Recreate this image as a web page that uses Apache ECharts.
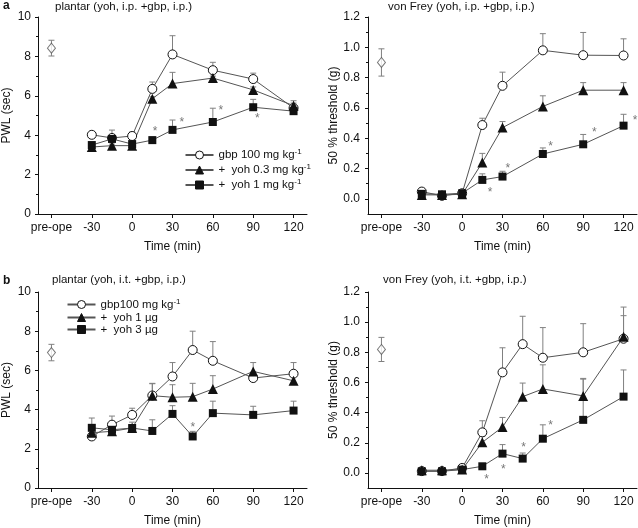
<!DOCTYPE html>
<html><head><meta charset="utf-8">
<script src="https://cdn.jsdelivr.net/npm/echarts@6/dist/echarts.min.js"></script>
<style>html,body{margin:0;padding:0;background:#fff}#c{width:638px;height:528px}</style>
</head><body><div id="c"></div>
<script>
// ---------- data ----------
const xTicks = [-60, -30, 0, 30, 60, 90, 120];   // -60 = "pre-ope"
const preOpeX = -60;
const timesA = [-30, -15, 0, 15, 30, 60, 90, 120];
const timesB = [-30, -15, 0, 15, 30, 45, 60, 90, 120];
const yTicksVF = [0, 0.2, 0.4, 0.6, 0.8, 1.0, 1.2];
const yMinorVF = [0.1, 0.3, 0.5, 0.7, 0.9, 1.1];

// a, left: plantar (yoh, i.p. +gbp, i.p.)
const aL_pre = [8.42, 0.40];
const aL_gbp = [4.02, 3.86, 3.96, 6.35, 8.10, 7.30, 6.85, 5.38];
const aL_gbpErr = [0.08, 0.10, 0.20, 0.35, 0.95, 0.40, 0.30, 0.25];
const aL_y03 = [3.40, 3.47, 3.47, 5.85, 6.62, 6.90, 6.30, 5.50];
const aL_y03Err = [0.08, 0.08, 0.10, 0.10, 0.57, 0.10, 0.15, 0.25];
const aL_y1 = [3.50, 3.81, 3.55, 3.75, 4.27, 4.67, 5.42, 5.22];
const aL_y1Err = [0.10, 0.45, 0.10, 0.15, 0.50, 0.70, 0.40, 0.10];
const aL_star = [[17, 4.33], [37, 4.78], [66, 5.38], [93, 4.99]];

// a, right: von Frey (yoh, i.p. +gbp, i.p.)
const aR_pre = [0.90, 0.09];
const aR_gbp = [0.048, 0.020, 0.037, 0.487, 0.746, 0.980, 0.948, 0.946];
const aR_gbpErr = [0.005, 0.005, 0.010, 0.045, 0.090, 0.110, 0.150, 0.110];
const aR_y03 = [0.026, 0.026, 0.030, 0.240, 0.470, 0.610, 0.717, 0.717];
const aR_y03Err = [0.005, 0.005, 0.010, 0.060, 0.040, 0.070, 0.050, 0.050];
const aR_y1 = [0.033, 0.030, 0.037, 0.125, 0.147, 0.296, 0.360, 0.483];
const aR_y1Err = [0.005, 0.010, 0.010, 0.040, 0.035, 0.040, 0.065, 0.075];
const aR_star = [[20.7, 0.055], [34, 0.217], [65.7, 0.362], [98.2, 0.45], [128.5, 0.529]];

// b, left: plantar (yoh, i.t. +gbp, i.p.)
const bL_pre = [6.91, 0.42];
const bL_gbp = [2.63, 3.23, 3.73, 4.72, 5.69, 7.04, 6.49, 5.61, 5.83];
const bL_gbpErr = [0.10, 0.44, 0.34, 0.60, 0.71, 0.96, 0.98, 0.30, 0.57];
const bL_y1 = [2.82, 2.89, 3.06, 4.71, 4.63, 4.66, 5.05, 5.95, 5.47];
const bL_y1Err = [0.10, 0.10, 0.10, 0.63, 0.64, 0.68, 0.68, 0.45, 0.30];
const bL_y3 = [3.07, 2.97, 3.06, 2.91, 3.78, 2.63, 3.82, 3.73, 3.95];
const bL_y3Err = [0.50, 0.35, 0.30, 0.57, 0.42, 0.26, 0.61, 0.44, 0.48];
const bL_star = [[45.2, 3.23]];

// b, right: von Frey (yoh, i.t. +gbp, i.p.)
const bR_pre = [0.819, 0.08];
const bR_gbp = [0.012, 0.012, 0.033, 0.269, 0.667, 0.854, 0.764, 0.800, 0.890];
const bR_gbpErr = [0.003, 0.003, 0.010, 0.077, 0.163, 0.185, 0.200, 0.190, 0.210];
const bR_y1 = [0.018, 0.018, 0.022, 0.203, 0.304, 0.506, 0.557, 0.511, 0.903];
const bR_y1Err = [0.005, 0.005, 0.005, 0.040, 0.064, 0.090, 0.160, 0.116, 0.140];
const bR_y3 = [0.011, 0.011, 0.022, 0.044, 0.128, 0.095, 0.227, 0.352, 0.506];
const bR_y3Err = [0.005, 0.005, 0.005, 0.010, 0.060, 0.037, 0.092, 0.270, 0.177];
const bR_star = [[18.2, -0.029], [30.7, 0.04], [45.7, 0.187], [65.7, 0.33]];

const legendA = ['gbp 100 mg kg-1', '+  yoh 0.3 mg kg-1', '+  yoh 1 mg kg-1'];
const legendB = ['gbp100 mg kg-1', '+  yoh 1 \u00b5g', '+  yoh 3 \u00b5g'];

// ---------- styling / building ----------
const FONT = '"Liberation Sans", Arial, Helvetica, sans-serif';
const INK = '#111';
const LINE = '#555';
const ERR = '#808080';

const panels = [
  { g: 0, times: timesA, pre: aL_pre, stars: aL_star,
    lines: [[legendA[0], aL_gbp, aL_gbpErr, 'c'], [legendA[1], aL_y03, aL_y03Err, 't'], [legendA[2], aL_y1, aL_y1Err, 's']] },
  { g: 1, times: timesA, pre: aR_pre, stars: aR_star,
    lines: [['aR gbp', aR_gbp, aR_gbpErr, 'c'], ['aR yoh 0.3', aR_y03, aR_y03Err, 't'], ['aR yoh 1', aR_y1, aR_y1Err, 's']] },
  { g: 2, times: timesB, pre: bL_pre, stars: bL_star,
    lines: [[legendB[0], bL_gbp, bL_gbpErr, 'c'], [legendB[1], bL_y1, bL_y1Err, 't'], [legendB[2], bL_y3, bL_y3Err, 's']] },
  { g: 3, times: timesB, pre: bR_pre, stars: bR_star,
    lines: [['bR gbp', bR_gbp, bR_gbpErr, 'c'], ['bR yoh 1', bR_y1, bR_y1Err, 't'], ['bR yoh 3', bR_y3, bR_y3Err, 's']] }
];

const symbolStyles = {
  c: { symbol: 'circle', symbolSize: 9, itemStyle: { color: '#fff', borderColor: INK, borderWidth: 1 } },
  t: { symbol: 'triangle', symbolSize: 10, itemStyle: { color: INK, borderColor: INK, borderWidth: 0 } },
  s: { symbol: 'rect', symbolSize: 8, itemStyle: { color: INK, borderColor: INK, borderWidth: 0 } }
};

function renderErr(params, api) {
  const x = api.value(0), lo = api.value(1), hi = api.value(2), both = api.value(3);
  const p1 = api.coord([x, lo]), p2 = api.coord([x, hi]);
  const w = 3;
  const st = { stroke: ERR, lineWidth: 1 };
  const ch = [
    { type: 'line', shape: { x1: p1[0], y1: p1[1], x2: p2[0], y2: p2[1] }, style: st },
    { type: 'line', shape: { x1: p2[0] - w, y1: p2[1], x2: p2[0] + w, y2: p2[1] }, style: st }
  ];
  if (both) ch.push({ type: 'line', shape: { x1: p1[0] - w, y1: p1[1], x2: p1[0] + w, y2: p1[1] }, style: st });
  return { type: 'group', children: ch };
}
function renderStar(params, api) {
  const p = api.coord([api.value(0), api.value(1)]);
  return { type: 'text', x: p[0], y: p[1] - 3.5,
    style: { text: '*', fill: '#777', font: '12px ' + FONT, align: 'center', verticalAlign: 'top' } };
}

const series = [];
panels.forEach(p => {
  const errData = [[preOpeX, p.pre[0] - p.pre[1], p.pre[0] + p.pre[1], 1]];
  p.lines.forEach(l => p.times.forEach((t, i) => errData.push([t, l[1][i], l[1][i] + l[2][i], 0])));
  series.push({ type: 'custom', xAxisIndex: p.g, yAxisIndex: p.g, z: 1, renderItem: renderErr, data: errData, silent: true });
  series.push({ type: 'scatter', xAxisIndex: p.g, yAxisIndex: p.g, z: 2, symbol: 'diamond', symbolSize: [8, 10],
    itemStyle: { color: '#fff', borderColor: LINE, borderWidth: 1 }, data: [[preOpeX, p.pre[0]]] });
  p.lines.forEach(l => {
    const s = symbolStyles[l[3]];
    series.push(Object.assign({
      type: 'line', name: l[0], xAxisIndex: p.g, yAxisIndex: p.g, z: 2,
      lineStyle: { color: LINE, width: 1 }, showSymbol: true, showAllSymbol: true,
      data: p.times.map((t, i) => [t, l[1][i]])
    }, JSON.parse(JSON.stringify(s))));
  });
  series.push({ type: 'custom', xAxisIndex: p.g, yAxisIndex: p.g, z: 3, renderItem: renderStar, data: p.stars, silent: true });
});

const grids = [
  { left: 38, top: 17, width: 269, height: 197 },
  { left: 368, top: 17, width: 269, height: 197 },
  { left: 38, top: 292, width: 269, height: 198 },
  { left: 368, top: 292, width: 269, height: 197 }
];

const txt = { fontFamily: FONT, fontSize: 12, color: INK };
const nameTxt = { fontFamily: FONT, fontSize: 12, color: INK };

const xAxes = [0, 1, 2, 3].map(g => ({
  type: 'value', gridIndex: g, min: -70, max: 130,
  axisLine: { show: true, onZero: false, lineStyle: { color: INK, width: 1 } },
  axisTick: { show: true, customValues: xTicks, length: 4, lineStyle: { color: INK } },
  axisLabel: Object.assign({ customValues: xTicks, margin: 8,
    formatter: v => (v === preOpeX ? 'pre-ope' : String(v)) }, txt),
  splitLine: { show: false },
  name: 'Time (min)', nameLocation: 'middle', nameGap: 27,
  nameTextStyle: nameTxt
}));

function plantarY(g) {
  return { type: 'value', gridIndex: g, min: 0, max: 10, interval: 2, position: 'left',
    axisLine: { show: true, onZero: false, lineStyle: { color: INK, width: 1 } },
    axisTick: { show: true, length: 3, lineStyle: { color: INK } },
    minorTick: { show: true, splitNumber: 2, length: 2, lineStyle: { color: INK } },
    axisLabel: Object.assign({ margin: 7 }, txt),
    splitLine: { show: false }, minorSplitLine: { show: false },
    name: 'PWL (sec)', nameLocation: 'middle', nameGap: 25,
    nameTextStyle: nameTxt };
}
function vfY(g) {
  return { type: 'value', gridIndex: g, min: -0.1, max: 1.2, position: 'left',
    axisLine: { show: true, onZero: false, lineStyle: { color: INK, width: 1 } },
    axisTick: { show: true, customValues: yTicksVF, length: 3, lineStyle: { color: INK } },
    axisLabel: Object.assign({ customValues: yTicksVF, margin: 8, formatter: v => v.toFixed(1) }, txt),
    splitLine: { show: false },
    name: '50 % threshold (g)', nameLocation: 'middle', nameGap: 26,
    nameTextStyle: nameTxt };
}
function vfMinor(g) {
  return { type: 'value', gridIndex: g, min: -0.1, max: 1.2, position: 'left',
    axisLine: { show: false, onZero: false },
    axisTick: { show: true, customValues: yMinorVF, length: 2, lineStyle: { color: INK } },
    axisLabel: { show: false }, splitLine: { show: false } };
}
const yAxes = [plantarY(0), vfY(1), plantarY(2), vfY(3), vfMinor(1), vfMinor(3)];

const richT = (fs, lh, padB) => ({
  t: { fontFamily: FONT, fontSize: fs, color: INK, lineHeight: lh },
  s: { fontFamily: FONT, fontSize: 8, color: INK, lineHeight: 8, padding: [0, 0, padB, 0] }
});
const legFmt = name => name.endsWith('-1') ? '{t|' + name.slice(0, -2) + '}{s|-1}' : '{t|' + name + '}';

const titleTxt = { fontFamily: FONT, fontSize: 11.5, fontWeight: 'normal', color: INK };
const option = {
  animation: false,
  backgroundColor: '#fff',
  title: [
    { text: 'a', left: 3, top: 0, padding: 0, textStyle: { fontFamily: FONT, fontSize: 12, fontWeight: 'bold', color: INK } },
    { text: 'plantar (yoh, i.p. +gbp, i.p.)', left: 55, top: 1, padding: 0, textStyle: titleTxt },
    { text: 'von Frey (yoh, i.p. +gbp, i.p.)', left: 388, top: 1, padding: 0, textStyle: titleTxt },
    { text: 'b', left: 3, top: 275, padding: 0, textStyle: { fontFamily: FONT, fontSize: 12, fontWeight: 'bold', color: INK } },
    { text: 'plantar (yoh, i.t. +gbp, i.p.)', left: 52, top: 274, padding: 0, textStyle: titleTxt },
    { text: 'von Frey (yoh, i.t. +gbp, i.p.)', left: 383, top: 274, padding: 0, textStyle: titleTxt }
  ],
  legend: [
    { data: legendA, orient: 'vertical', left: 184.5, top: 147.5, padding: 0, itemWidth: 28, itemHeight: 10, itemGap: 0,
      selectedMode: false, formatter: legFmt, itemStyle: { borderWidth: 1 }, textStyle: { rich: richT(11.5, 15, 7) } },
    { data: legendB, orient: 'vertical', left: 66.5, top: 297.5, padding: 0, itemWidth: 28, itemHeight: 10, itemGap: 0,
      selectedMode: false, formatter: legFmt, itemStyle: { borderWidth: 1 }, textStyle: { rich: richT(11.5, 14, 6) } }
  ],
  grid: grids,
  xAxis: xAxes,
  yAxis: yAxes,
  series: series
};

const chart = echarts.init(document.getElementById('c'), null, { renderer: 'canvas' });
chart.setOption(option);
</script>
</body></html>
